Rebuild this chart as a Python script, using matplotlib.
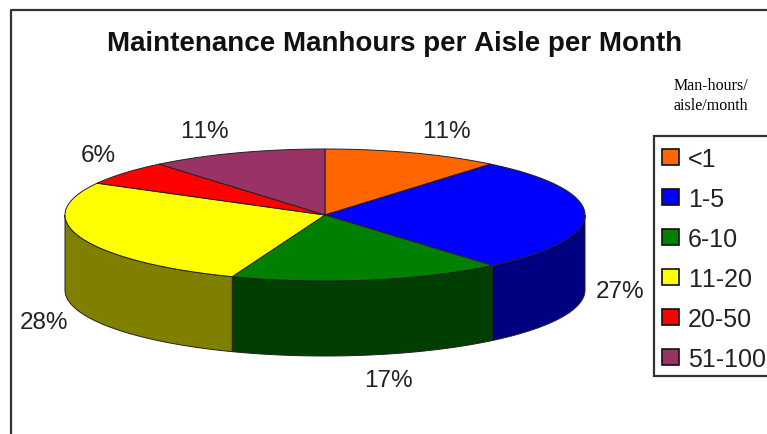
import numpy as np
import matplotlib
matplotlib.use('Agg')
import matplotlib.pyplot as plt
from matplotlib.patches import Polygon, Rectangle

categories = ['<1', '1-5', '6-10', '11-20', '20-50', '51-100']
shares = [11, 27, 17, 28, 6, 11]
top_colors = ['#ff6600', '#0000ff', '#008000', '#ffff00', '#ff0000', '#993366']
side_colors = ['#803300', '#000080', '#003f00', '#808000', '#800000', '#4c1933']
# label centres, in pixels of the picture
label_pos = [(446, 132), (620, 292), (388, 381), (44, 323), (98, 156), (204, 132)]

plt.rcParams['font.family'] = ['Liberation Sans', 'DejaVu Sans']
plt.rcParams['text.kerning_factor'] = 6

cx, cy = 325, 216   # pie centre
rx, ry = 260, 66    # ellipse radii
depth = 75
front_warp = 3.3    # the 3D view pushes the front edges round by a few degrees


def warp(a):
    '''Angle as the 3D view draws it, only the front part moves'''
    a = np.asarray(a, dtype=float)
    bend = np.sin(np.radians(0.75 * (a - 40)))
    return a + front_warp * np.where((a > 40) & (a < 280), bend, 0)


def rim(a0, a1):
    '''Points along the ellipse, angles in degrees clockwise from the top'''
    t = np.radians(np.linspace(a0, a1, 120))
    return cx + rx * np.sin(t), cy - ry * np.cos(t)


fig = plt.figure(figsize=(7.67, 4.35), dpi=100)
ax = fig.add_axes([0, 0, 1, 1])
ax.set_xlim(0, 767)
ax.set_ylim(435, 0)
ax.axis('off')

# outer frame, open at the right and the bottom
ax.plot([10.5, 10.5, 767], [435, 10.5, 10.5], color='#333333', lw=1.6)

edges = warp(360 * np.cumsum([0] + shares) / sum(shares))

# walls first, only the front half of the rim shows
for i in range(len(shares)):
    a0, a1 = max(edges[i], 90), min(edges[i + 1], 270)
    if a0 >= a1:
        continue
    x, y = rim(a0, a1)
    pts = np.r_[np.c_[x, y], np.c_[x[::-1], y[::-1] + depth]]
    ax.add_patch(Polygon(pts, fc=side_colors[i], ec='#222222', lw=0.7))

# top face
for i in range(len(shares)):
    x, y = rim(edges[i], edges[i + 1])
    pts = np.r_[[[cx, cy]], np.c_[x, y]]
    ax.add_patch(Polygon(pts, fc=top_colors[i], ec='#222222', lw=0.7))

for share, (px, py) in zip(shares, label_pos):
    ax.text(px, py, '%d%%' % share, fontsize=17.5, color='#222222',
            ha='center', va='center')

ax.text(395, 44, 'Maintenance Manhours per Aisle per Month', fontsize=20,
        fontweight='bold', color='#111111', ha='center', va='center')
ax.text(711, 96, 'Man-hours/\naisle/month', fontsize=11.5, family='Liberation Serif',
        color='#000000', ha='center', va='center', linespacing=1.3)

# legend box
ax.add_patch(Rectangle((653.5, 136.5), 130, 240, fc='white', ec='#333333',
                       lw=1.6, clip_on=True))
for i, cat in enumerate(categories):
    yc = 158 + 40 * i
    ax.add_patch(Rectangle((662, yc - 8), 17, 16, fc=top_colors[i], ec='#111111', lw=1.2))
    ax.text(688, yc + 2, cat, fontsize=18, color='#222222', ha='left', va='center')

fig.savefig('out.png', dpi=100)
